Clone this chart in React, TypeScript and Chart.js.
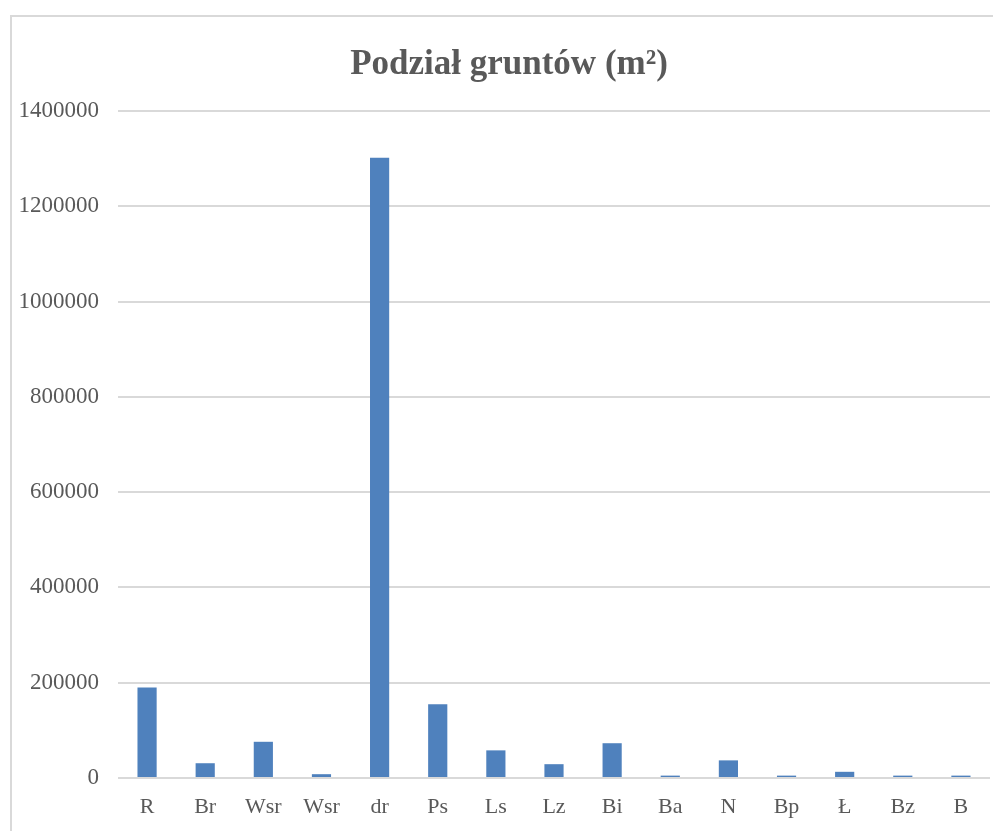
import React, { useEffect, useRef } from "react";
import { Chart, registerables } from "chart.js";

Chart.register(...registerables);

const categories = ["R", "Br", "Wsr", "Wsr", "dr", "Ps", "Ls", "Lz", "Bi", "Ba", "N", "Bp", "Ł", "Bz", "B"];
const areaValues = [190000, 31000, 76000, 8000, 1302000, 155000, 58000, 29000, 73000, 5000, 37000, 5000, 13000, 5000, 5000];
const titleText = "Podział gruntów (m²)";
const yMin = 0;
const yMax = 1400000;
const yStep = 200000;

const FONT = "'Liberation Serif', 'Times New Roman', serif";

export default function App() {
  const ref = useRef<HTMLCanvasElement | null>(null);

  useEffect(() => {
    if (!ref.current) return;
    const chart = new Chart(ref.current, {
      type: "bar",
      data: {
        labels: categories,
        datasets: [
          {
            data: areaValues,
            backgroundColor: "#4f81bd",
            borderWidth: 0,
            categoryPercentage: 1,
            barPercentage: 0.33,
          },
        ],
      },
      options: {
        responsive: false,
        animation: false,
        layout: { padding: { left: 0, right: 0, top: 0, bottom: 0 } },
        plugins: {
          legend: { display: false },
          tooltip: { enabled: false },
          title: {
            display: true,
            text: titleText,
            color: "#595959",
            font: { family: FONT, size: 35, weight: "bold" },
            padding: { top: 27, bottom: 25 },
          },
        },
        scales: {
          x: {
            grid: { display: false, drawTicks: false },
            border: { display: false },
            ticks: {
              color: "#595959",
              font: { family: FONT, size: 22 },
              padding: 16,
              maxRotation: 0,
              autoSkip: false,
            },
            afterFit: (s: any) => {
              s.height = 53;
              s.paddingRight = 16;
              s.paddingLeft = 0;
            },
          },
          y: {
            min: yMin,
            max: yMax,
            grid: { color: "#d9d9d9", lineWidth: 2, drawTicks: false },
            border: { display: false },
            ticks: {
              stepSize: yStep,
              color: "#595959",
              font: { family: FONT, size: 23 },
              padding: 19,
              callback: (v: any) => String(v),
            },
            afterFit: (s: any) => {
              s.width = 106;
            },
          },
        },
      },
    });
    return () => chart.destroy();
  }, []);

  return (
    <div style={{ position: "fixed", left: 0, top: 0, width: 993, height: 831, overflow: "hidden", background: "#fff" }}>
      <div
        style={{
          position: "absolute",
          left: 10,
          top: 15,
          width: 1000,
          height: 900,
          border: "2px solid #d9d9d9",
          background: "#fff",
        }}
      >
        <canvas ref={ref} width={994} height={814} style={{ display: "block" }} />
      </div>
    </div>
  );
}
